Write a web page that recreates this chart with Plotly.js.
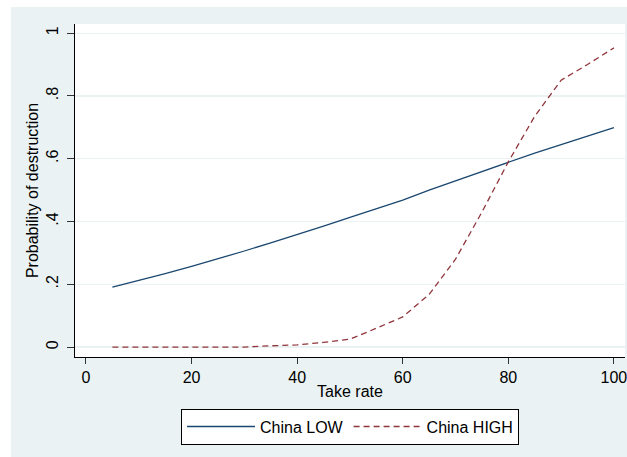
<!DOCTYPE html>
<html>
<head>
<meta charset="utf-8">
<script src="https://cdn.plot.ly/plotly-3.0.1.min.js"></script>
<style>
html,body{margin:0;padding:0;background:#ffffff;overflow:hidden;}
#chart{position:absolute;left:11px;top:7px;width:630px;height:450px;}
</style>
</head>
<body>
<div id="chart"></div>
<script>
var takeRate = [5,10,15,20,25,30,35,40,45,50,55,60,65,70,75,80,85,90,95,100];
var chinaLow = [0.191,0.212,0.234,0.257,0.281,0.306,0.332,0.358,0.385,0.413,0.440,0.468,0.500,0.530,0.560,0.589,0.618,0.645,0.672,0.699];
var chinaHigh = [0.000,0.000,0.000,0.000,0.000,0.000,0.004,0.007,0.015,0.025,0.060,0.096,0.168,0.280,0.430,0.590,0.735,0.850,0.900,0.953];
var xTicks = [0,20,40,60,80,100];
var yTicks = [0,0.2,0.4,0.6,0.8,1];
var yTickText = ['0','.2','.4','.6','.8','1'];

var traces = [
  {x: takeRate, y: chinaLow, type: 'scatter', mode: 'lines', name: 'China LOW',
   line: {color: '#1a476f', width: 1.3}},
  {x: takeRate, y: chinaHigh, type: 'scatter', mode: 'lines', name: 'China HIGH',
   line: {color: '#90353b', width: 1.3, dash: '6px,4px'}}
];

var layout = {
  width: 630, height: 450,
  margin: {l: 64, r: 16, t: 17, b: 98},
  paper_bgcolor: '#eaf2f3',
  plot_bgcolor: '#ffffff',
  font: {family: 'Liberation Sans, Arial, sans-serif', size: 16, color: '#000000'},
  showlegend: true,
  legend: {
    orientation: 'h', x: 0.5, xanchor: 'center', y: -0.155, yanchor: 'top',
    bgcolor: '#ffffff', bordercolor: '#000000', borderwidth: 1,
    itemwidth: 68, font: {size: 16}
  },
  xaxis: {
    range: [-2.08, 102.1], tickvals: xTicks, ticks: 'outside', ticklen: 6, tickcolor: '#333333',
    tickfont: {size: 16}, ticklabeloverflow: 'allow',
    showgrid: false, zeroline: false, showline: true, linecolor: '#000000', linewidth: 1,
    title: {text: 'Take rate', standoff: 0, font: {size: 16}}, fixedrange: true
  },
  yaxis: {
    range: [-0.0316, 1.029], tickvals: yTicks, ticktext: yTickText, tickangle: -90,
    ticks: 'outside', ticklen: 7, tickcolor: '#333333', tickfont: {size: 16},
    ticklabelstandoff: 3,
    showgrid: true, gridcolor: '#eaf2f3', gridwidth: 1.2, zeroline: false,
    showline: true, linecolor: '#000000', linewidth: 1,
    title: {text: 'Probability of destruction', standoff: 0, font: {size: 16}}, fixedrange: true
  }
};

Plotly.newPlot('chart', traces, layout, {displayModeBar: false, staticPlot: true});
</script>
</body>
</html>
